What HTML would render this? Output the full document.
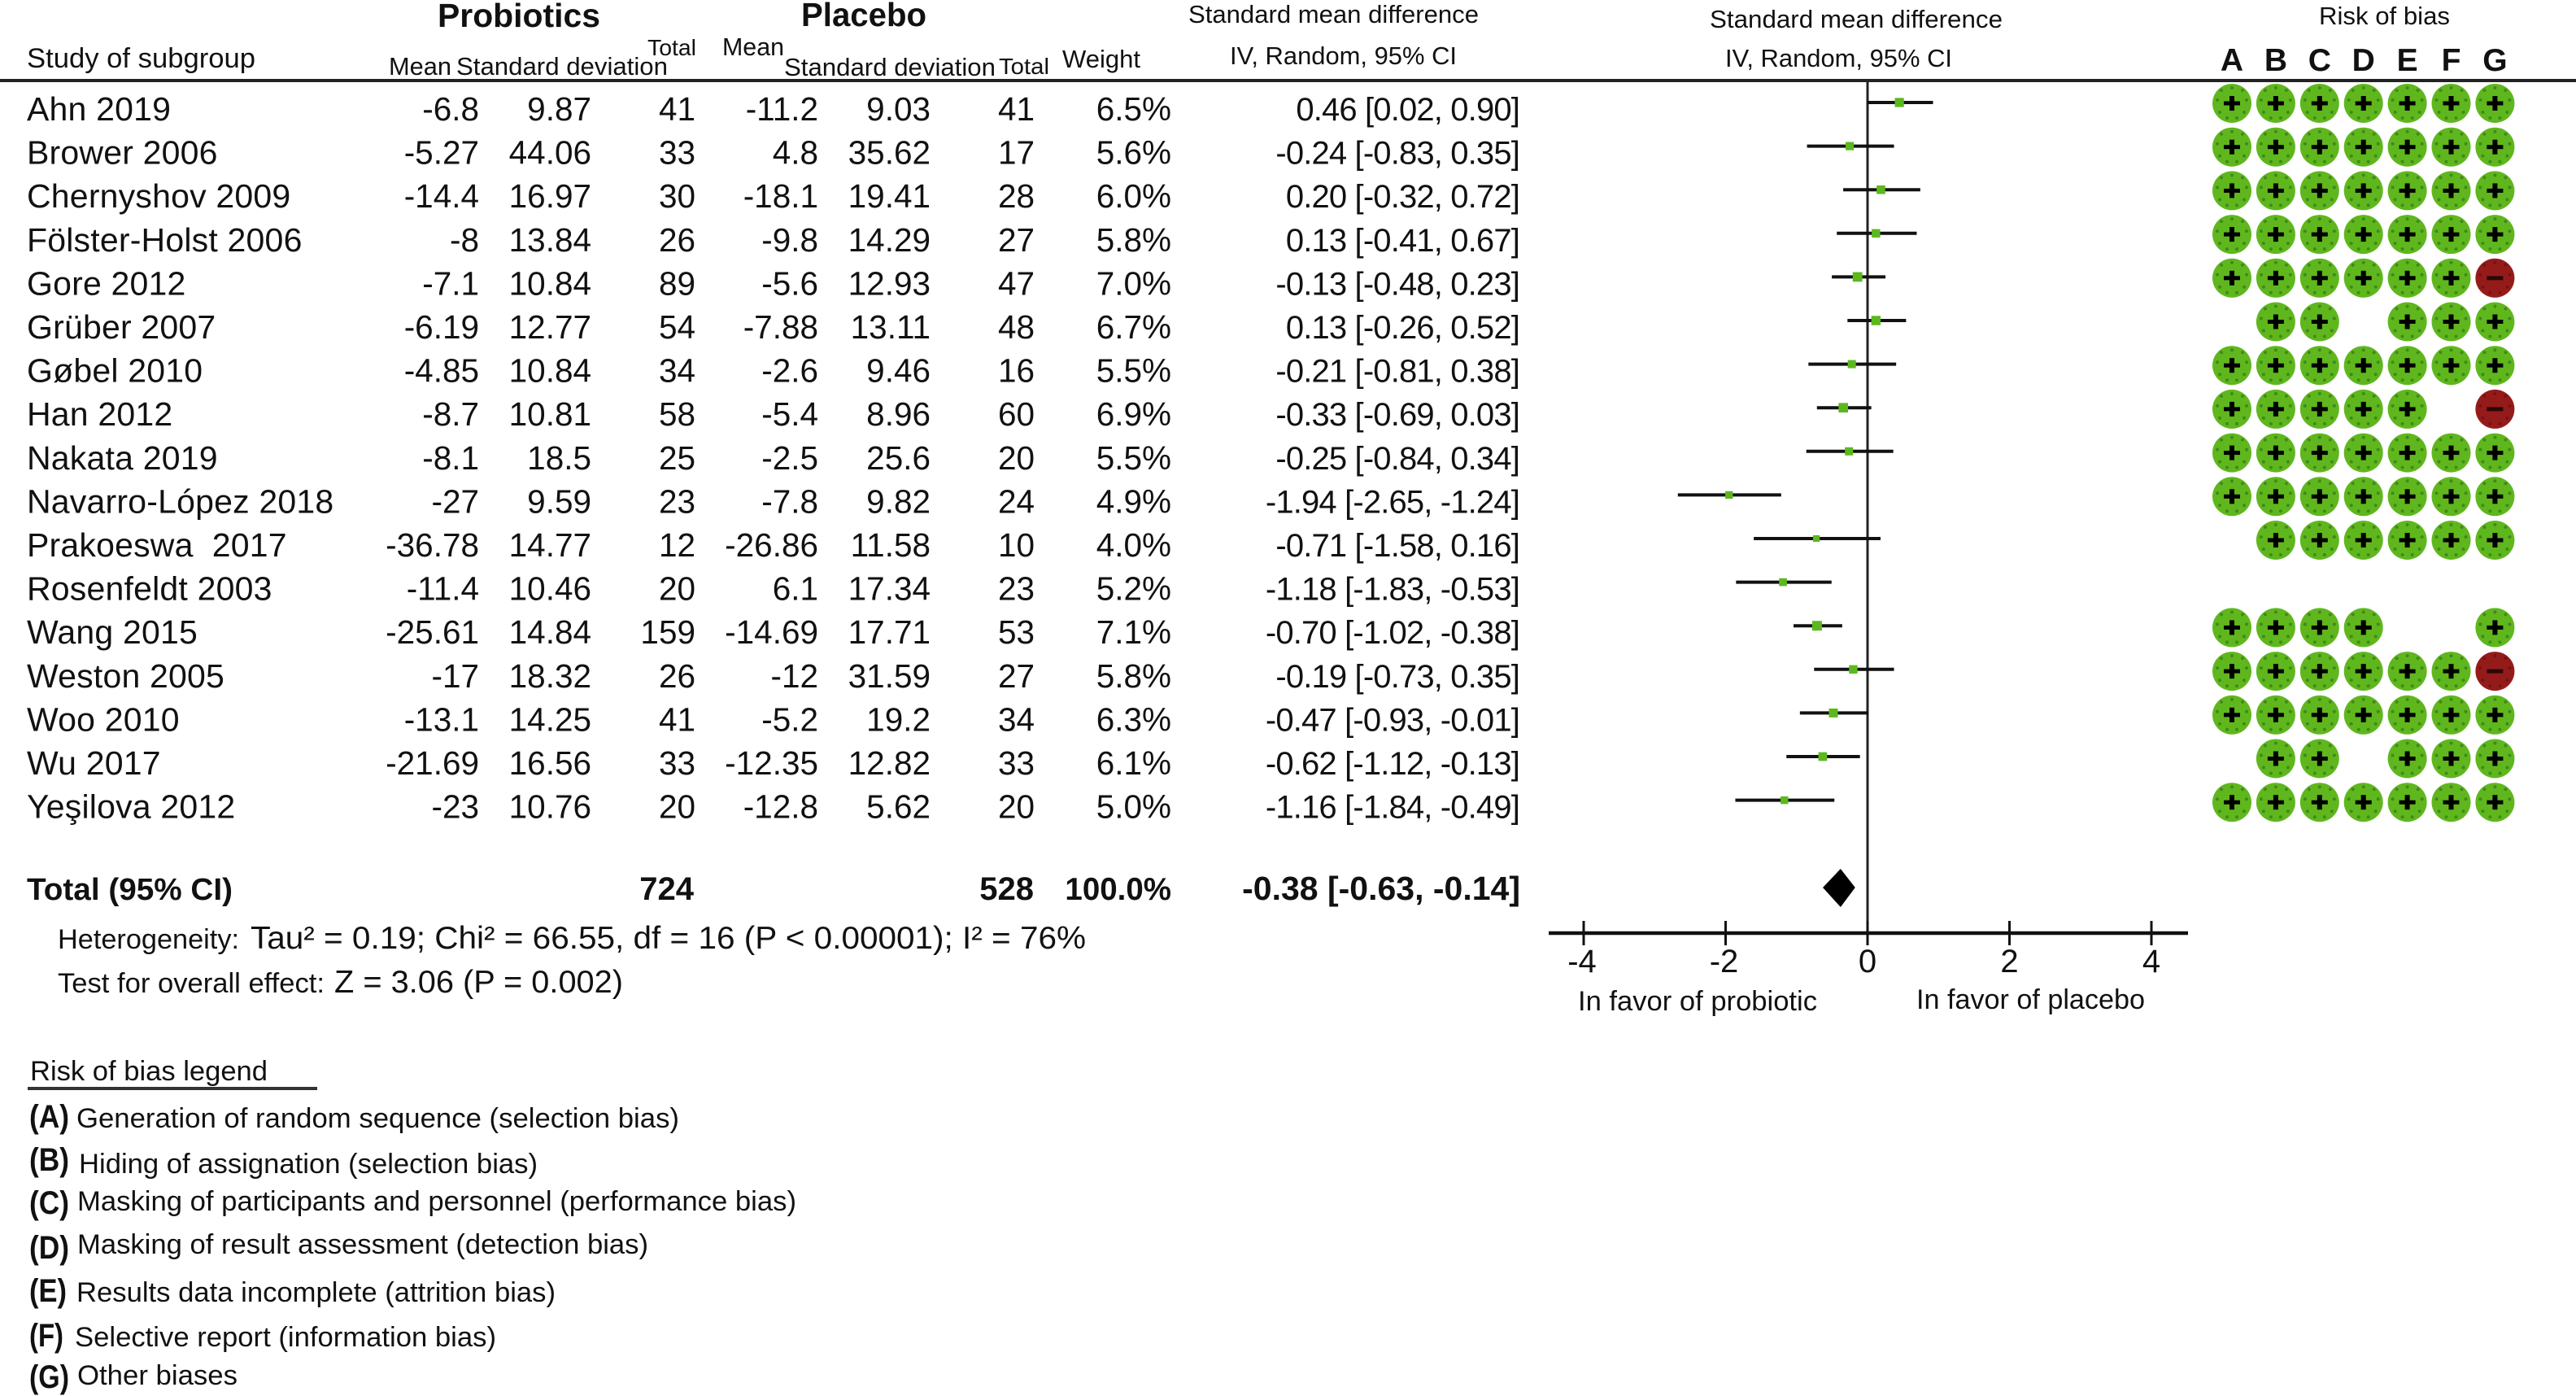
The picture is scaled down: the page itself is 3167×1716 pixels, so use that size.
<!DOCTYPE html>
<html lang="en">
<head>
<meta charset="utf-8">
<title>Forest plot: probiotics vs placebo</title>
<style>
html,body{margin:0;padding:0;background:#fff;width:3167px;height:1716px;overflow:hidden}
svg{display:block}
text{font-family:"Liberation Sans",sans-serif;fill:#111;white-space:pre}
</style>
</head>
<body>
<svg id="chart" xmlns="http://www.w3.org/2000/svg" width="3167" height="1716" viewBox="0 0 3167 1716">
  <rect x="0" y="0" width="3167" height="1716" fill="#fff"/>

  <g>
    <text x="538" y="33" font-size="41" font-weight="bold" textLength="200" lengthAdjust="spacingAndGlyphs">Probiotics</text>
    <text x="985" y="32" font-size="41" font-weight="bold" fill="#333" textLength="154" lengthAdjust="spacingAndGlyphs">Placebo</text>
    <text x="33" y="83" font-size="34" textLength="281" lengthAdjust="spacingAndGlyphs">Study of subgroup</text>
    <text x="478" y="92" font-size="31" textLength="77" lengthAdjust="spacingAndGlyphs">Mean</text>
    <text x="561" y="92" font-size="31" textLength="260" lengthAdjust="spacingAndGlyphs">Standard deviation</text>
    <text x="796" y="68" font-size="28" textLength="60" lengthAdjust="spacingAndGlyphs">Total</text>
    <text x="888" y="68" font-size="31" textLength="76" lengthAdjust="spacingAndGlyphs">Mean</text>
    <text x="964" y="93" font-size="31" textLength="260" lengthAdjust="spacingAndGlyphs">Standard deviation</text>
    <text x="1228" y="91" font-size="28" textLength="62" lengthAdjust="spacingAndGlyphs">Total</text>
    <text x="1306" y="83" font-size="31" textLength="96" lengthAdjust="spacingAndGlyphs">Weight</text>
    <text x="1461" y="28" font-size="31" textLength="357" lengthAdjust="spacingAndGlyphs">Standard mean difference</text>
    <text x="1512" y="79" font-size="30.5" textLength="279" lengthAdjust="spacingAndGlyphs">IV, Random, 95% CI</text>
    <text x="2102" y="34" font-size="31" textLength="360" lengthAdjust="spacingAndGlyphs">Standard mean difference</text>
    <text x="2121" y="82" font-size="30.5" textLength="279" lengthAdjust="spacingAndGlyphs">IV, Random, 95% CI</text>
    <text x="2851" y="30" font-size="31" textLength="161" lengthAdjust="spacingAndGlyphs">Risk of bias</text>
  </g>

  <rect x="0" y="97" width="3167" height="4" fill="#222"/>

  <g id="rows"></g>

  <g>
    <text x="33" y="1106" font-size="38" font-weight="bold" fill="#222" textLength="253" lengthAdjust="spacingAndGlyphs">Total (95% CI)</text>
    <text x="853" y="1106" font-size="40" font-weight="bold" fill="#222" text-anchor="end">724</text>
    <text x="1271" y="1106" font-size="40" font-weight="bold" fill="#222" text-anchor="end">528</text>
    <text x="1440" y="1106" font-size="38.5" font-weight="bold" fill="#222" text-anchor="end">100.0%</text>
    <text x="1869" y="1106" font-size="41" font-weight="bold" fill="#222" text-anchor="end">-0.38 [-0.63, -0.14]</text>
  </g>

  <g>
    <text x="71" y="1166" font-size="34" textLength="223" lengthAdjust="spacingAndGlyphs">Heterogeneity:</text>
    <text x="308" y="1166" font-size="39" fill="#222" textLength="1027" lengthAdjust="spacingAndGlyphs">Tau² = 0.19; Chi² = 66.55, df = 16 (P &lt; 0.00001); I² = 76%</text>
    <text x="71" y="1220" font-size="34" textLength="328" lengthAdjust="spacingAndGlyphs">Test for overall effect:</text>
    <text x="411" y="1220" font-size="39" fill="#222" textLength="355" lengthAdjust="spacingAndGlyphs">Z = 3.06 (P = 0.002)</text>
  </g>

  <g>
    <text x="37" y="1328" font-size="34.5" textLength="292" lengthAdjust="spacingAndGlyphs">Risk of bias legend</text>
    <rect x="34" y="1336" width="356" height="4" fill="#333"/>

    <text x="36" y="1386" font-size="40" font-weight="bold" fill="#444" textLength="49" lengthAdjust="spacingAndGlyphs">(A)</text>
    <text x="94" y="1386" font-size="34" textLength="741" lengthAdjust="spacingAndGlyphs">Generation of random sequence (selection bias)</text>

    <text x="36" y="1439" font-size="40" font-weight="bold" fill="#444" textLength="49" lengthAdjust="spacingAndGlyphs">(B)</text>
    <text x="97" y="1442" font-size="34" textLength="564" lengthAdjust="spacingAndGlyphs">Hiding of assignation (selection bias)</text>

    <text x="36" y="1492" font-size="40" font-weight="bold" fill="#444" textLength="49" lengthAdjust="spacingAndGlyphs">(C)</text>
    <text x="95" y="1488" font-size="34" textLength="884" lengthAdjust="spacingAndGlyphs">Masking of participants and personnel (performance bias)</text>

    <text x="36" y="1547" font-size="40" font-weight="bold" fill="#444" textLength="49" lengthAdjust="spacingAndGlyphs">(D)</text>
    <text x="95" y="1541" font-size="34" textLength="702" lengthAdjust="spacingAndGlyphs">Masking of result assessment (detection bias)</text>

    <text x="36" y="1600" font-size="40" font-weight="bold" fill="#444" textLength="46" lengthAdjust="spacingAndGlyphs">(E)</text>
    <text x="94" y="1600" font-size="34" textLength="589" lengthAdjust="spacingAndGlyphs">Results data incomplete (attrition bias)</text>

    <text x="36" y="1655" font-size="40" font-weight="bold" fill="#444" textLength="42" lengthAdjust="spacingAndGlyphs">(F)</text>
    <text x="92" y="1655" font-size="34" textLength="518" lengthAdjust="spacingAndGlyphs">Selective report (information bias)</text>

    <text x="36" y="1706" font-size="40" font-weight="bold" fill="#444" textLength="49" lengthAdjust="spacingAndGlyphs">(G)</text>
    <text x="95" y="1702" font-size="34" textLength="197" lengthAdjust="spacingAndGlyphs">Other biases</text>
  </g>

  <g id="plot"></g>
  <g id="risk"></g>

  <text x="1940" y="1242" font-size="34" textLength="294" lengthAdjust="spacingAndGlyphs">In favor of probiotic</text>
  <text x="2356" y="1240" font-size="34" textLength="281" lengthAdjust="spacingAndGlyphs">In favor of placebo</text>
</svg>

<script>
const studies = ['Ahn 2019','Brower 2006','Chernyshov 2009','Fölster-Holst 2006','Gore 2012','Grüber 2007','Gøbel 2010','Han 2012','Nakata 2019','Navarro-López 2018','Prakoeswa  2017','Rosenfeldt 2003','Wang 2015','Weston 2005','Woo 2010','Wu 2017','Yeşilova 2012'];
const probioticsMean = [-6.8,-5.27,-14.4,-8,-7.1,-6.19,-4.85,-8.7,-8.1,-27,-36.78,-11.4,-25.61,-17,-13.1,-21.69,-23];
const probioticsSd = [9.87,44.06,16.97,13.84,10.84,12.77,10.84,10.81,18.5,9.59,14.77,10.46,14.84,18.32,14.25,16.56,10.76];
const probioticsTotal = [41,33,30,26,89,54,34,58,25,23,12,20,159,26,41,33,20];
const placeboMean = [-11.2,4.8,-18.1,-9.8,-5.6,-7.88,-2.6,-5.4,-2.5,-7.8,-26.86,6.1,-14.69,-12,-5.2,-12.35,-12.8];
const placeboSd = [9.03,35.62,19.41,14.29,12.93,13.11,9.46,8.96,25.6,9.82,11.58,17.34,17.71,31.59,19.2,12.82,5.62];
const placeboTotal = [41,17,28,27,47,48,16,60,20,24,10,23,53,27,34,33,20];
const weights = [6.5,5.6,6.0,5.8,7.0,6.7,5.5,6.9,5.5,4.9,4.0,5.2,7.1,5.8,6.3,6.1,5.0];
const effects = [0.46,-0.24,0.20,0.13,-0.13,0.13,-0.21,-0.33,-0.25,-1.94,-0.71,-1.18,-0.70,-0.19,-0.47,-0.62,-1.16];
const ciLow = [0.02,-0.83,-0.32,-0.41,-0.48,-0.26,-0.81,-0.69,-0.84,-2.65,-1.58,-1.83,-1.02,-0.73,-0.93,-1.12,-1.84];
const ciHigh = [0.90,0.35,0.72,0.67,0.23,0.52,0.38,0.03,0.34,-1.24,0.16,-0.53,-0.38,0.35,-0.01,-0.13,-0.49];
const pooledEffect = -0.38;
const pooledLow = -0.63;
const pooledHigh = -0.14;
const axisTicks = [-4,-2,0,2,4];
const riskDomains = ['A','B','C','D','E','F','G'];
const riskRatings = ['+++++++','+++++++','+++++++','+++++++','++++++-',' ++ +++','+++++++','+++++ -','+++++++','+++++++',' ++++++','       ','++++  +','++++++-','+++++++',' ++ +++','+++++++'];

const SVG_NS = 'http://www.w3.org/2000/svg';
const xScale = v => 2296 + v * 87.25;
const rowTextY = i => 148 + 53.6 * i;
const rowPlotY = i => 126 + 53.6 * i;
const rowRiskY = i => 127 + 53.7 * i;
const riskX = j => 2744 + 53.9 * j;
const markerSize = w => 3.4 + w * 1.2;

function shape(parent, tag, name, attrs) {
  const el = document.createElementNS(SVG_NS, tag);
  
  
  for (const k in attrs) el.setAttribute(k, attrs[k]);
  parent.appendChild(el);
  return el;
}
function label(parent, name, x, y, str, attrs) {
  const el = shape(parent, 'text', name, Object.assign({x: x, y: y, 'font-size': 40.5}, attrs || {}));
  el.textContent = str;
  return el;
}

const rowsG = document.getElementById('rows');
const plotG = document.getElementById('plot');
const riskG = document.getElementById('risk');
const END = {'text-anchor': 'end', fill: '#222'};

studies.forEach((study, i) => {
  const y = rowTextY(i);
  const row = shape(rowsG, 'g', 'study-row-' + (i + 1), {});
  label(row, 'study-name', 33, y, study, {fill: '#222', 'font-size': 41, 'letter-spacing': '0.2'});
  label(row, 'probiotics-mean', 589, y, String(probioticsMean[i]), END);
  label(row, 'probiotics-sd', 727, y, String(probioticsSd[i]), END);
  label(row, 'probiotics-total', 855, y, String(probioticsTotal[i]), END);
  label(row, 'placebo-mean', 1006, y, String(placeboMean[i]), END);
  label(row, 'placebo-sd', 1144, y, String(placeboSd[i]), END);
  label(row, 'placebo-total', 1272, y, String(placeboTotal[i]), END);
  label(row, 'study-weight', 1440, y, weights[i].toFixed(1) + '%', END);
  label(row, 'study-effect', 1868, y, effects[i].toFixed(2) + ' [' + ciLow[i].toFixed(2) + ', ' + ciHigh[i].toFixed(2) + ']',
    {'text-anchor': 'end', fill: '#222', 'font-size': 40, 'letter-spacing': '-0.85'});
});

/* forest plot */
shape(plotG, 'line', 'zero-reference-line', {x1: xScale(0), x2: xScale(0), y1: 98, y2: 1162, stroke: '#222', 'stroke-width': 3});
shape(plotG, 'line', 'x-axis-line', {x1: 1904, x2: 2690, y1: 1147, y2: 1147, stroke: '#111', 'stroke-width': 4.5});
axisTicks.forEach(t => {
  shape(plotG, 'line', 'x-axis-tick', {x1: xScale(t), x2: xScale(t), y1: 1132, y2: 1162, stroke: '#111', 'stroke-width': 3});
  label(plotG, 'x-axis-tick-label', xScale(t) - (t < 0 ? 2 : 0), 1195, String(t), {'text-anchor': 'middle', 'font-size': 40, fill: '#222'});
});
effects.forEach((e, i) => {
  const y = rowPlotY(i);
  shape(plotG, 'line', 'confidence-interval', {x1: xScale(ciLow[i]), x2: xScale(ciHigh[i]), y1: y, y2: y, stroke: '#111', 'stroke-width': 4, 'stroke-linecap': 'square'});
  const s = markerSize(weights[i]);
  shape(plotG, 'rect', 'effect-marker', {x: xScale(e) - s / 2 - 1, y: y - s / 2, width: s, height: s, fill: '#5cb81e'});
});
shape(plotG, 'polygon', 'pooled-effect-diamond', {
  points: [[xScale(pooledLow), 1091], [xScale(pooledEffect), 1068], [xScale(pooledHigh) - 3, 1091], [xScale(pooledEffect), 1115]].map(p => p.join(',')).join(' '),
  fill: '#000'
});

/* risk of bias */
riskDomains.forEach((d, j) => {
  label(riskG, 'risk-domain-' + d.toLowerCase(), riskX(j), 87, d, {'text-anchor': 'middle', 'font-size': 39, 'font-weight': 'bold', fill: '#222'});
});
const dotOffsets = [[-13,-16],[0,-19],[13,-16],[-18,-4],[18,-4],[-15,11],[15,11],[-6,18],[6,18]];
riskRatings.forEach((ratings, i) => {
  ratings.split('').forEach((r, j) => {
    if (r === ' ') return;
    const cx = riskX(j), cy = rowRiskY(i);
    const good = r === '+';
    const g = shape(riskG, 'g', good ? 'risk-low-marker' : 'risk-high-marker', {});
    shape(g, 'circle', 'risk-disc', {cx: cx, cy: cy, r: 24, fill: good ? '#5fb71d' : '#951b1b'});
    dotOffsets.forEach(o => {
      shape(g, 'circle', 'risk-disc-dot', {cx: cx + o[0], cy: cy + o[1], r: 2, fill: good ? '#3f8a1a' : '#751313'});
    });
    shape(g, 'rect', 'risk-sign-bar', {x: cx - 10, y: cy - 2.5, width: 20, height: 5, fill: good ? '#000' : '#2a0808'});
    if (good) shape(g, 'rect', 'risk-sign-stem', {x: cx - 3, y: cy - 9, width: 6, height: 18, fill: '#000'});
  });
});
</script>
</body>
</html>
